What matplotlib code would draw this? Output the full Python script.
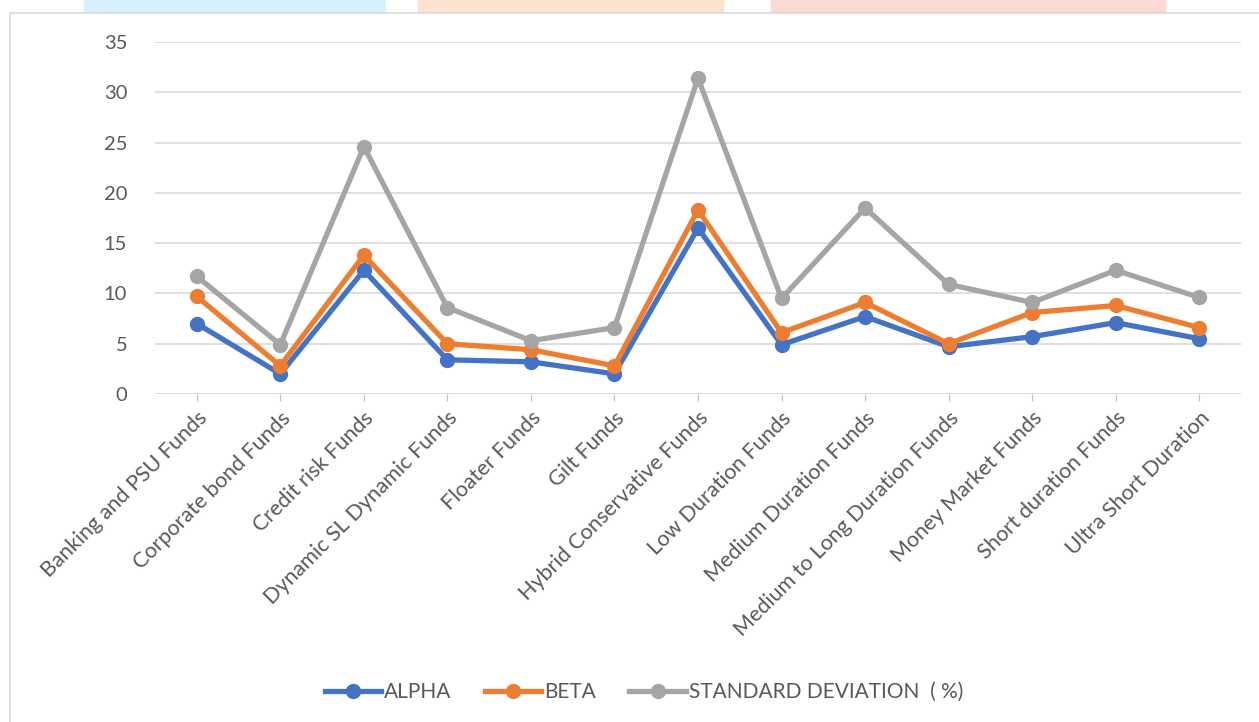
import matplotlib
matplotlib.use("Agg")
import matplotlib.pyplot as plt
from matplotlib.patches import Rectangle

plt.rcParams["font.family"] = ["Lato", "DejaVu Sans"]

categories = ["Banking and PSU Funds", "Corporate bond Funds", "Credit risk Funds",
              "Dynamic SL Dynamic Funds", "Floater Funds", "Gilt Funds",
              "Hybrid Conservative Funds", "Low Duration Funds", "Medium Duration Funds",
              "Medium to Long Duration Funds", "Money Market Funds", "Short duration Funds",
              "Ultra Short Duration"]
alpha = [7.0, 2.0, 12.3, 3.4, 3.2, 2.0, 16.5, 4.9, 7.7, 4.7, 5.7, 7.1, 5.5]
beta = [9.7, 2.8, 13.8, 5.0, 4.4, 2.8, 18.3, 6.1, 9.1, 5.0, 8.1, 8.8, 6.6]
std_dev = [11.7, 4.9, 24.6, 8.6, 5.3, 6.6, 31.4, 9.5, 18.5, 10.9, 9.1, 12.3, 9.6]
y_ticks = [0, 5, 10, 15, 20, 25, 30, 35]

W, H = 1259, 722
fig = plt.figure(figsize=(W / 100, H / 100), dpi=100)

# faint coloured strip at the very top (cropped page background)
for x0, x1, col in [(84, 385, "#d6f1fb"), (418, 723, "#fde3cf"), (771, 1165, "#fcd9d4")]:
    fig.patches.append(Rectangle((x0 / W, 1 - 13 / H), (x1 - x0) / W, 13 / H,
                                 transform=fig.transFigure, color=col, zorder=0))
# chart frame
fig.patches.append(Rectangle((10 / W, -0.01), 1.0, 1 - 13 / H + 0.01,
                             transform=fig.transFigure, facecolor="white",
                             edgecolor="#d9d9d9", lw=1.2, zorder=1))

ax = fig.add_axes([155 / W, 1 - 394 / H, (1241 - 155) / W, (394 - 42) / H])
ax.set_zorder(2)
ax.patch.set_alpha(0)

x = list(range(len(categories)))
series = [(alpha, "ALPHA", "#4472C4"), (beta, "BETA", "#ED7D31"),
          (std_dev, "STANDARD DEVIATION  ( %)", "#A5A5A5")]
for vals, name, col in series:
    ax.plot(x, vals, color=col, lw=3.8, marker="o", markersize=10, label=name,
            solid_joinstyle="round", zorder=3)

ax.set_xlim(-0.5, len(categories) - 0.5)
ax.set_ylim(0, 35)
ax.set_yticks(y_ticks)
ax.grid(axis="y", color="#d9d9d9", lw=1.2)
ax.set_axisbelow(True)
for side in ["top", "right", "left", "bottom"]:
    ax.spines[side].set_visible(False)
ax.tick_params(axis="y", length=0, labelsize=14.5, labelcolor="#595959", pad=20)
ax.tick_params(axis="x", length=5, color="#bfbfbf", labelsize=15.5, labelcolor="#595959", pad=5)
ax.set_xticks(x)
ax.set_xticklabels(categories, rotation=45, ha="right", rotation_mode="anchor")

leg = fig.legend(loc="center", bbox_to_anchor=(644 / W, 1 - 692 / H), ncol=3,
                 frameon=False, fontsize=15, handlelength=2.7, columnspacing=1.6,
                 handletextpad=0.15)
for t in leg.get_texts():
    t.set_color("#595959")

fig.savefig("out.png", dpi=100)
